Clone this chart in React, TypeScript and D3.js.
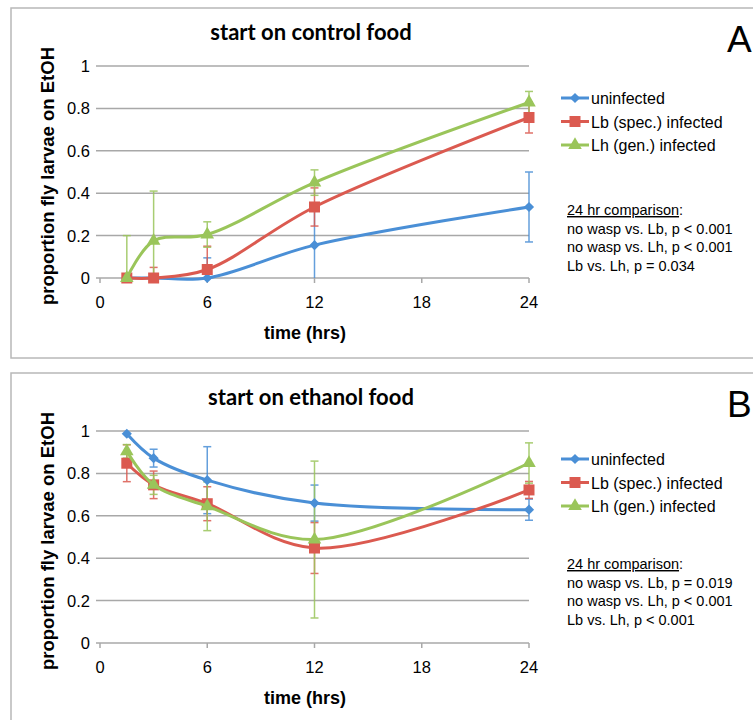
import React from "react";
import * as d3 from "d3";

// Proportion of fly larvae on ethanol food over time, two starting conditions

const hours = [1.5, 3, 6, 12, 24];
const xTicks = [0, 6, 12, 18, 24];
const yTicks = [0, 0.2, 0.4, 0.6, 0.8, 1];
const seriesNames = ["uninfected", "Lb (spec.) infected", "Lh (gen.) infected"];
const seriesColors = ["#4a8fd6", "#db5a50", "#9ac55a"];

// panel A: start on control food
const controlUninfected = [0, 0, 0, 0.155, 0.335];
const controlUninfectedErr = [0, 0, 0.095, 0.16, 0.165];
const controlLb = [0, 0, 0.04, 0.335, 0.757];
const controlLbErr = [0, 0.05, 0.11, 0.09, 0.073];
const controlLh = [0, 0.175, 0.205, 0.45, 0.828];
const controlLhErr = [0.2, 0.235, 0.06, 0.06, 0.052];
const controlNotes = ["no wasp vs. Lb, p < 0.001", "no wasp vs. Lh, p < 0.001", "Lb vs. Lh, p = 0.034"];

// panel B: start on ethanol food
const ethanolUninfected = [0.987, 0.872, 0.768, 0.66, 0.629];
const ethanolUninfectedErr = [0, 0.042, 0.158, 0.085, 0.05];
const ethanolLb = [0.848, 0.746, 0.657, 0.448, 0.722];
const ethanolLbErr = [0.087, 0.065, 0.08, 0.12, 0.04];
const ethanolLh = [0.904, 0.746, 0.645, 0.488, 0.849];
const ethanolLhErr = [0.032, 0.045, 0.115, 0.37, 0.095];
const ethanolNotes = ["no wasp vs. Lb, p = 0.019", "no wasp vs. Lh, p < 0.001", "Lb vs. Lh, p < 0.001"];

const W = 753;
const H = 720;
const sans = "'Liberation Sans', Arial, sans-serif";

const markerPath = (i: number) => {
  if (i === 0) return d3.symbol(d3.symbolSquare, 52)()!;
  if (i === 1) return d3.symbol(d3.symbolSquare, 121)()!;
  return d3.symbol(d3.symbolTriangle, 80)()!;
};

const Marker = ({ i, x, y }: { i: number; x: number; y: number }) => (
  <path
    d={markerPath(i)}
    transform={`translate(${x},${y})${i === 0 ? " rotate(45)" : ""}`}
    fill={seriesColors[i]}
  />
);

const Panel = ({ off, title, letter, values, errs, legendY, noteY, notes }: any) => {
  const x = d3.scaleLinear().domain([0, 24]).range([100, 529]);
  const y = d3.scaleLinear().domain([0, 1]).range([278 + off, 66 + off]);
  const line = d3
    .line<number>()
    .x((_, j) => x(hours[j]))
    .y((d) => y(d))
    .curve(d3.curveCatmullRom.alpha(0.5));

  return (
    <g>
      <rect x={11} y={8 + off} width={800} height={350} fill="none" stroke="#b8b8b8" strokeWidth={1.5} />
      <text x={311} y={40 + off} textAnchor="middle" fontFamily="Lato, sans-serif" fontWeight="bold" fontSize={22}>
        {title}
      </text>
      <text x={727} y={52 + off} fontFamily={sans} fontSize={37}>
        {letter}
      </text>

      {/* grid + axes */}
      {yTicks.map((t) => (
        <g key={t}>
          <line x1={96} x2={529} y1={y(t)} y2={y(t)} stroke="#a8a8a8" strokeWidth={1.5} />
          <text x={90} y={y(t) + 6} textAnchor="end" fontFamily={sans} fontSize={16.5}>
            {String(t)}
          </text>
        </g>
      ))}
      {xTicks.map((t) => (
        <g key={t}>
          <line x1={x(t)} x2={x(t)} y1={y(0)} y2={y(0) + 5} stroke="#a8a8a8" strokeWidth={1.5} />
          <text x={x(t)} y={y(0) + 30} textAnchor="middle" fontFamily={sans} fontSize={16.5}>
            {t}
          </text>
        </g>
      ))}
      <text x={305} y={y(0) + 61} textAnchor="middle" fontFamily={sans} fontWeight="bold" fontSize={18}>
        time (hrs)
      </text>
      <text
        transform={`translate(54,${176 + off}) rotate(-90)`}
        textAnchor="middle"
        fontFamily={sans}
        fontWeight="bold"
        fontSize={18.5}
      >
        proportion fly larvae on EtOH
      </text>

      {/* error bars */}
      {values.map((vals: number[], i: number) =>
        vals.map((v, j) => {
          const e = errs[i][j];
          if (!e) return null;
          const lo = y(Math.max(0, v - e));
          const hi = y(Math.min(1, v + e));
          const cx = x(hours[j]);
          return (
            <g key={`${i}-${j}`} stroke={seriesColors[i]} strokeWidth={1.5} opacity={0.85}>
              <line x1={cx} x2={cx} y1={lo} y2={hi} />
              <line x1={cx - 4} x2={cx + 4} y1={hi} y2={hi} />
              {v - e > 0 && <line x1={cx - 4} x2={cx + 4} y1={lo} y2={lo} />}
            </g>
          );
        })
      )}

      {/* lines + markers */}
      {values.map((vals: number[], i: number) => (
        <g key={i}>
          <path d={line(vals)!} fill="none" stroke={seriesColors[i]} strokeWidth={3} />
          {vals.map((v, j) => (
            <Marker key={j} i={i} x={x(hours[j])} y={y(v)} />
          ))}
        </g>
      ))}

      {/* legend */}
      {seriesNames.map((name, i) => {
        const ly = legendY + i * 23.5 + off;
        return (
          <g key={name}>
            <line x1={561} x2={589} y1={ly} y2={ly} stroke={seriesColors[i]} strokeWidth={3} />
            <Marker i={i} x={575} y={ly} />
            <text x={591} y={ly + 6} fontFamily={sans} fontSize={16}>
              {name}
            </text>
          </g>
        );
      })}

      {/* 24 hr comparison */}
      <text x={567} y={noteY + off} fontFamily={sans} fontSize={14.5}>
        <tspan textDecoration="underline">24 hr comparison</tspan>:
      </text>
      {notes.map((n: string, k: number) => (
        <text key={n} x={567} y={noteY + off + (k + 1) * 18.5} fontFamily={sans} fontSize={14.5}>
          {n}
        </text>
      ))}
    </g>
  );
};

export default function App() {
  return (
    <svg width={W} height={H} style={{ position: "absolute", left: 0, top: 0, background: "#fff" }}>
      <rect width={W} height={H} fill="#fff" />
      <Panel
        off={0}
        title="start on control food"
        letter="A"
        values={[controlUninfected, controlLb, controlLh]}
        errs={[controlUninfectedErr, controlLbErr, controlLhErr]}
        legendY={98}
        noteY={215}
        notes={controlNotes}
      />
      <Panel
        off={365}
        title="start on ethanol food"
        letter="B"
        values={[ethanolUninfected, ethanolLb, ethanolLh]}
        errs={[ethanolUninfectedErr, ethanolLbErr, ethanolLhErr]}
        legendY={94}
        noteY={204}
        notes={ethanolNotes}
      />
    </svg>
  );
}
